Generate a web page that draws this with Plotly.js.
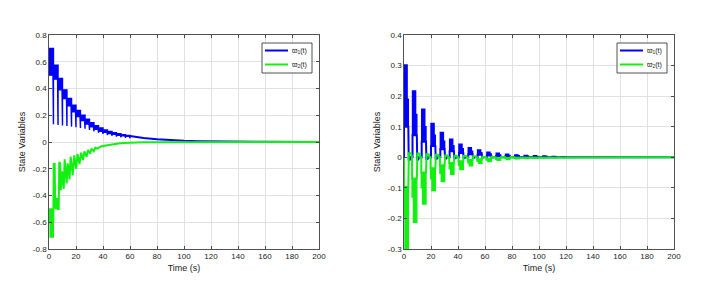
<!DOCTYPE html>
<html><head><meta charset="utf-8">
<script src="https://cdn.plot.ly/plotly-3.0.1.min.js"></script>
<style>html,body{margin:0;padding:0;background:#fff}#chart{width:702px;height:282px}</style>
</head><body><div id="chart"></div>
<script>
// ---------------- data ----------------
const seriesNames = ['ϖ<sub>1</sub>(t)', 'ϖ<sub>2</sub>(t)'];
const xTickVals = [0, 20, 40, 60, 80, 100, 120, 140, 160, 180, 200];
const xTickText = ['0', '20', '40', '60', '80', '100', '120', '140', '160', '180', '200'];
const leftYTickVals = [-0.8, -0.6, -0.4, -0.2, 0, 0.2, 0.4, 0.6, 0.8];
const leftYTickText = ['-0.8', '-0.6', '-0.4', '-0.2', '0', '0.2', '0.4', '0.6', '0.8'];
const rightYTickVals = [-0.3, -0.2, -0.1, 0, 0.1, 0.2, 0.3, 0.4];
const rightYTickText = ['-0.3', '-0.2', '-0.1', '0', '0.1', '0.2', '0.3', '0.4'];
const xTitle = 'Time (s)';
const yTitle = 'State Variables';

// left panel, w1: stepped oscillating band with downward spikes
const L1_blockT = [0, 3.3, 6.7, 10.0, 13.3, 16.7, 20.0, 23.3, 26.7, 30.0, 33.3, 36.7, 40.0, 43.3, 46.7, 50.0, 53.3, 56.7, 60.0];
const L1_top = [0.70, 0.575, 0.475, 0.39, 0.325, 0.275, 0.235, 0.2, 0.17, 0.145, 0.122, 0.105, 0.09, 0.079, 0.07, 0.062, 0.055, 0.049];
const L1_low = [0.50, 0.47, 0.39, 0.325, 0.27, 0.225, 0.19, 0.16, 0.135, 0.113, 0.095, 0.08, 0.072, 0.064, 0.057, 0.051, 0.046, 0.042];
const L1_dip = [0.132, 0.128, 0.124, 0.12, 0.115, 0.11, 0.105, 0.10, 0.09, 0.08, 0.07, 0.06, 0.052, 0.046, 0.04, 0.035, 0.031, 0.028];
const L1_tailT = [60, 65, 70, 80, 90, 100, 110, 120, 140, 160, 200];
const L1_tailV = [0.045, 0.037, 0.03, 0.021, 0.014, 0.009, 0.006, 0.004, 0.002, 0.001, 0];

// left panel, w2: initial band then jagged rise to zero
const L2_bandT = [0, 0.8, 3.2];
const L2_bandTop = [-0.5, -0.5];
const L2_bandBot = [-0.6, -0.71];
const L2_t = [3.2, 3.5, 4.2, 4.6, 5.4, 6.0, 6.5, 7.2, 7.6, 8.2, 8.7, 9.3, 9.7, 10.3, 10.9, 11.6, 12.4, 13.1, 13.8, 14.5, 15.2, 16.0, 16.8, 17.5, 18.7, 19.4, 20.1, 21.1, 21.8, 22.6, 23.7, 24.4, 25.2, 26.2, 27.0, 27.8, 28.8, 29.6, 30.4, 31.5, 32.4, 33.2, 34.3, 35.5, 36.5, 38, 40, 45, 50, 55, 60, 70, 80, 100, 200];
const L2_v = [-0.6, -0.165, -0.165, -0.49, -0.5, -0.42, -0.5, -0.5, -0.15, -0.16, -0.36, -0.3, -0.22, -0.3, -0.35, -0.13, -0.2, -0.31, -0.16, -0.2, -0.28, -0.11, -0.17, -0.25, -0.1, -0.14, -0.2, -0.09, -0.12, -0.165, -0.08, -0.1, -0.135, -0.07, -0.09, -0.11, -0.06, -0.075, -0.088, -0.05, -0.06, -0.068, -0.042, -0.05, -0.045, -0.035, -0.03, -0.02, -0.013, -0.008, -0.005, -0.002, -0.001, 0, 0];

// right panel: periodic decaying pulses
const R_start = [0, 6.3, 13.1, 20.0, 26.9, 33.8, 40.7, 47.6, 54.5, 61.4, 68.3, 75.2, 82.1, 89.0, 95.9, 102.8, 109.7, 116.6];
const R1_top = [0.302, 0.217, 0.157, 0.111, 0.081, 0.059, 0.043, 0.031, 0.024, 0.017, 0.013, 0.010, 0.008, 0.006, 0.005, 0.004, 0.003, 0.002];
const R1_sub = [0.19, 0.14, 0.10, 0.072, 0.053, 0.038, 0.028, 0.02, 0.015, 0.011, 0.008, 0.006, 0.005, 0.004, 0.003, 0.0025, 0.002, 0.001];
const R1_low = [0.10, 0.072, 0.051, 0.037, 0.026, 0.02, 0.014, 0.01, 0.008, 0.006, 0.004, 0.003, 0.003, 0.002, 0.002, 0.001, 0.001, 0.001];
const R1_neg = [-0.008, -0.007, -0.006, -0.005, -0.004, -0.003, -0.002, -0.0015, -0.001, -0.001, 0, 0, 0, 0, 0, 0, 0, 0];
const R2_deep = [-0.30, -0.213, -0.153, -0.109, -0.079, -0.056, -0.04, -0.028, -0.02, -0.014, -0.01, -0.007, -0.005, -0.004, -0.003, -0.002, -0.0015, -0.001];
const R2_shallow = [-0.195, -0.13, -0.1, -0.07, -0.052, -0.037, -0.026, -0.018, -0.013, -0.009, -0.0065, -0.0045, -0.0035, -0.0025, -0.002, -0.0013, -0.001, -0.0006];
const R2_high = [-0.096, -0.069, -0.05, -0.036, -0.026, -0.019, -0.013, -0.009, -0.0065, -0.0045, -0.0033, -0.0023, -0.0017, -0.0013, -0.001, -0.0007, -0.0005, -0.0003];
const R2_hump = [0.013, 0.012, 0.010, 0.008, 0.006, 0.005, 0.004, 0.003, 0.002, 0.0015, 0.001, 0.001, 0, 0, 0, 0, 0, 0];

// ---------------- styles ----------------
const BLUE = '#0000ff', GREEN = '#12f012';
const FONT = 'Liberation Sans, Arial, Helvetica, sans-serif';
const TXT = '#1a1a1a';
const SPIKE_W = 0.35, MAIN_DUR = 2.3, SUB_DUR = 3.2;
const G_PRE = 0.3, G_MAIN = 0.7, G_END = 3.2;
const W = 702, H = 282, M = { l: 49, r: 28, t: 35, b: 33 };

// ---------------- build marks ----------------
function leftBluePoly() {
  const xs = [], ys = [], n = L1_top.length;
  for (let i = 0; i < n; i++) { xs.push(L1_blockT[i], L1_blockT[i + 1]); ys.push(L1_top[i], L1_top[i]); }
  xs.push(L1_tailT[0]); ys.push(L1_tailV[0]);
  for (let i = n - 1; i >= 0; i--) {
    const te = L1_blockT[i + 1];
    xs.push(te, te, te - SPIKE_W, te - SPIKE_W, L1_blockT[i]);
    ys.push(L1_low[i], L1_dip[i], L1_dip[i], L1_low[i], L1_low[i]);
  }
  return { xs, ys };
}
function leftGreenBand() {
  const xs = [], ys = [];
  for (let i = 0; i < L2_bandTop.length; i++) { xs.push(L2_bandT[i], L2_bandT[i + 1]); ys.push(L2_bandTop[i], L2_bandTop[i]); }
  for (let i = L2_bandBot.length - 1; i >= 0; i--) { xs.push(L2_bandT[i + 1], L2_bandT[i]); ys.push(L2_bandBot[i], L2_bandBot[i]); }
  return { xs, ys };
}
function rightBlue() {
  const px = [], py = [], bx = [], by = [];
  R_start.forEach((s, k) => {
    px.push(s, s, s + MAIN_DUR, s + MAIN_DUR, s + SUB_DUR, s + SUB_DUR, null);
    py.push(R1_low[k], R1_top[k], R1_top[k], R1_sub[k], R1_sub[k], R1_low[k], null);
    bx.push(s, s, s + SUB_DUR, s + SUB_DUR + 0.3, s + SUB_DUR + 1.1, s + SUB_DUR + 1.6);
    by.push(0, R1_low[k], R1_low[k], R1_neg[k], R1_neg[k], 0);
  });
  bx.push(200); by.push(0);
  return { px, py, bx, by };
}
function rightGreen() {
  const px = [], py = [], bx = [], by = [];
  R_start.forEach((s, k) => {
    const gs = Math.max(0, s - G_PRE), gm = s + G_MAIN, ge = s + G_END;
    px.push(gs, gs, gm, gm, ge, ge, null);
    py.push(R2_high[k], R2_shallow[k], R2_shallow[k], R2_deep[k], R2_deep[k], R2_high[k], null);
    bx.push(gs, gs, ge, ge + 0.4, ge + 2.0, ge + 2.5);
    by.push(0, R2_high[k], R2_high[k], R2_hump[k], R2_hump[k], 0);
  });
  bx.push(200); by.push(0);
  return { px, py, bx, by };
}

const lb = leftBluePoly(), lg = leftGreenBand(), rb = rightBlue(), rg = rightGreen();
const polyStyle = (c) => ({ mode: 'lines', fill: 'toself', fillcolor: c, line: { color: c, width: 1.4 }, showlegend: false, hoverinfo: 'skip' });
const traces = [
  Object.assign({ x: lb.xs, y: lb.ys, xaxis: 'x', yaxis: 'y' }, polyStyle(BLUE)),
  { x: L1_tailT, y: L1_tailV, xaxis: 'x', yaxis: 'y', mode: 'lines', line: { color: BLUE, width: 2 }, name: seriesNames[0], showlegend: false },
  Object.assign({ x: lg.xs, y: lg.ys, xaxis: 'x', yaxis: 'y' }, polyStyle(GREEN)),
  { x: L2_t, y: L2_v, xaxis: 'x', yaxis: 'y', mode: 'lines', line: { color: GREEN, width: 2 }, name: seriesNames[1], showlegend: false },
  Object.assign({ x: rb.px, y: rb.py, xaxis: 'x2', yaxis: 'y2', connectgaps: false }, polyStyle(BLUE)),
  { x: rb.bx, y: rb.by, xaxis: 'x2', yaxis: 'y2', mode: 'lines', line: { color: BLUE, width: 2 }, name: seriesNames[0], showlegend: false },
  Object.assign({ x: rg.px, y: rg.py, xaxis: 'x2', yaxis: 'y2', connectgaps: false }, polyStyle(GREEN)),
  { x: rg.bx, y: rg.by, xaxis: 'x2', yaxis: 'y2', mode: 'lines', line: { color: GREEN, width: 2 }, name: seriesNames[1], showlegend: false }
];

// ---------------- axes ----------------
const axisCommon = {
  showline: true, linecolor: '#262626', linewidth: 0.8, mirror: 'ticks',
  ticks: 'inside', ticklen: 3, tickwidth: 0.8, tickcolor: '#262626',
  showgrid: true, gridcolor: '#e1e1e1', gridwidth: 1, zeroline: false,
  tickfont: { family: FONT, size: 8, color: TXT }, fixedrange: true
};
const xAxis = (dom, anchor) => Object.assign({}, axisCommon, {
  domain: dom, anchor: anchor, range: [0, 200], tickmode: 'array', tickvals: xTickVals, ticktext: xTickText,
  title: { text: xTitle, font: { family: FONT, size: 9, color: TXT }, standoff: 4 }
});
const yAxis = (rng, tv, tt, anchor) => Object.assign({}, axisCommon, {
  domain: [0, 1], anchor: anchor, range: rng, tickmode: 'array', tickvals: tv, ticktext: tt,
  title: { text: yTitle, font: { family: FONT, size: 9, color: TXT }, standoff: 5 }
});

// ---------------- hand-drawn legend boxes (matching the small MATLAB legends) ----------------
const px2x = (p) => (p - M.l) / (W - M.l - M.r);
const px2y = (p) => 1 - (p - M.t) / (H - M.t - M.b);
const shapes = [], annotations = [];
const legendColors = [BLUE, GREEN];
const rowY = [50.5, 64.5];
[262, 617].forEach((x0) => {
  shapes.push({ type: 'rect', xref: 'paper', yref: 'paper', x0: px2x(x0), x1: px2x(x0 + 50), y0: px2y(43), y1: px2y(73),
    line: { color: '#262626', width: 0.8 }, fillcolor: '#ffffff', layer: 'above' });
  seriesNames.forEach((nm, i) => {
    shapes.push({ type: 'line', xref: 'paper', yref: 'paper', x0: px2x(x0 + 3), x1: px2x(x0 + 26), y0: px2y(rowY[i]), y1: px2y(rowY[i]),
      line: { color: legendColors[i], width: 2 }, layer: 'above' });
    annotations.push({ xref: 'paper', yref: 'paper', x: px2x(x0 + 28), y: px2y(rowY[i]), xanchor: 'left', yanchor: 'middle',
      text: nm, showarrow: false, font: { family: FONT, size: 7, color: TXT } });
  });
});

const layout = {
  width: W, height: H, paper_bgcolor: '#ffffff', plot_bgcolor: '#ffffff',
  margin: M, showlegend: false,
  xaxis: xAxis([0, 0.432], 'y'),
  yaxis: yAxis([-0.8, 0.8], leftYTickVals, leftYTickText, 'x'),
  xaxis2: xAxis([0.568, 1], 'y2'),
  yaxis2: yAxis([-0.3, 0.4], rightYTickVals, rightYTickText, 'x2'),
  shapes: shapes, annotations: annotations
};
Plotly.newPlot('chart', traces, layout, { displayModeBar: false, staticPlot: true });
</script></body></html>
